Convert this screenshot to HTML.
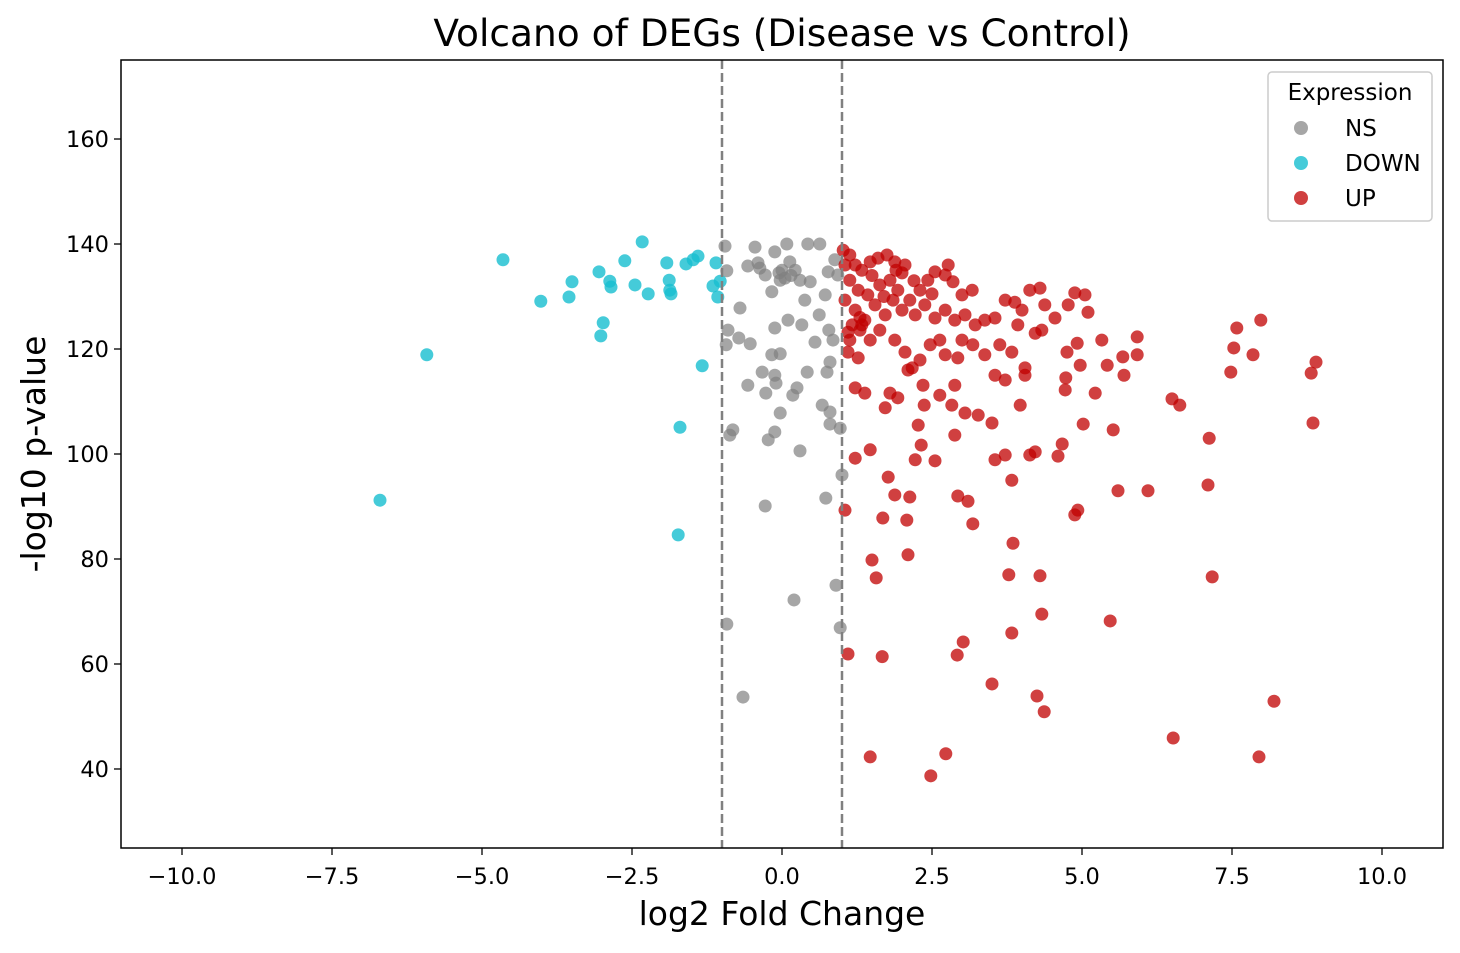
<!DOCTYPE html>
<html><head><meta charset="utf-8"><style>
body{margin:0;background:#fff}
svg text{font-family:"DejaVu Sans","Liberation Sans",sans-serif;fill:#000}
</style></head><body>
<svg id="chart" width="1460" height="948" xmlns="http://www.w3.org/2000/svg">
<rect width="1460" height="948" fill="#fff"/>
<text x="782" y="46" font-size="37.5" text-anchor="middle">Volcano of DEGs (Disease vs Control)</text>
<g id="marks"></g>
<rect x="121" y="60" width="1322" height="788" fill="none" stroke="#000" stroke-width="1.5"/>
<g id="axes"></g>
<text x="782" y="925" font-size="33" text-anchor="middle">log2 Fold Change</text>
<text transform="translate(45,454) rotate(-90)" font-size="33" text-anchor="middle">-log10 p-value</text>
<g>
<rect x="1268" y="72" width="164" height="149" rx="4" fill="#fff" fill-opacity="0.8" stroke="#ccc" stroke-width="1.5"/>
<text x="1350" y="100" font-size="23" text-anchor="middle">Expression</text>
<circle cx="1301" cy="128" r="7" fill="#808080" fill-opacity="0.7"/>
<text x="1345" y="136" font-size="23">NS</text>
<circle cx="1301" cy="163" r="7" fill="#17becf" fill-opacity="0.8"/>
<text x="1345" y="171" font-size="23">DOWN</text>
<circle cx="1301" cy="198" r="7" fill="#c00000" fill-opacity="0.75"/>
<text x="1345" y="206" font-size="23">UP</text>
</g>
</svg>
<script>
const xTicks=[-10,-7.5,-5,-2.5,0,2.5,5,7.5,10];
const xTickLabels=["\u221210.0","\u22127.5","\u22125.0","\u22122.5","0.0","2.5","5.0","7.5","10.0"];
const yTicks=[40,60,80,100,120,140,160];
const thresholds=[-1,1];
const downX=[-4.65,-4.02,-3.55,-3.5,-3.05,-2.98,-3.02,-2.87,-2.85,-2.62,-2.45,-2.33,-2.23,-1.92,-1.88,-1.87,-1.85,-1.6,-1.48,-1.4,-1.33,-1.7,-1.73,-1.15,-1.1,-1.07,-1.03,-5.92,-6.7];
const downY=[137,129.1,129.9,132.8,134.7,125,122.5,132.9,131.8,136.8,132.2,140.4,130.5,136.4,133.1,131.2,130.5,136.2,137,137.7,116.8,105.1,84.6,132,136.4,129.9,132.9,118.9,91.2];
const nsX=[-0.45,-0.57,-0.4,-0.37,-0.92,-0.12,0.08,0.43,0.63,0.13,0,0.22,0.3,0.47,-0.03,-0.28,-0.17,0.38,0.72,0.88,0.93,0.77,0.62,0.33,0.1,-0.12,0.78,0.55,0.85,-0.9,-0.93,-0.7,-0.72,-0.53,-0.33,-0.57,-0.12,-0.1,-0.17,-0.03,-0.27,0.18,0.25,0.42,0.75,0.8,0.67,0.8,0.8,0.97,-0.03,-0.12,-0.23,-0.82,-0.87,0.3,1.0,0.73,-0.28,0.9,0.2,0.97,-0.92,-0.65,-0.95,0.05,0.15,-0.05];
const nsY=[139.4,135.8,136.4,135.4,134.9,138.5,140,140,140,136.6,135,135,133.1,132.8,133.1,134.1,130.9,129.3,130.3,137,134.1,134.7,126.5,124.6,125.5,124,123.6,121.3,121.7,123.6,120.8,127.8,122.1,121,115.6,113.1,115,113.5,118.9,119.1,111.6,111.2,112.6,115.6,115.6,117.5,109.3,108,105.7,104.9,107.8,104.2,102.7,104.6,103.6,100.6,96,91.6,90.1,75,72.2,66.9,67.6,53.7,139.6,133.5,134,134.5];
const upX=[1.13,1.22,1.33,1.47,1.6,1.75,1.88,2.05,1.13,1.27,1.43,1.63,1.8,1.93,2.13,2.3,2.43,2.55,2.72,2.77,2.85,3.0,3.17,1.05,1.22,1.38,1.55,1.72,1.85,2.0,2.22,2.38,2.55,2.72,2.88,3.05,3.22,3.38,3.55,3.72,3.88,4.0,4.13,4.3,4.38,4.55,4.77,4.88,5.05,5.1,3.93,4.33,4.22,3.63,3.83,4.05,3.72,3.55,3.38,3.18,3.0,2.93,2.72,2.63,2.47,2.3,2.17,2.05,1.88,1.63,1.47,1.3,1.13,1.1,1.27,1.22,1.38,1.8,1.72,1.93,2.1,2.27,2.32,2.22,2.55,2.37,2.35,2.63,2.83,2.88,3.05,3.27,3.5,3.55,3.72,3.83,3.97,4.05,2.88,1.22,1.47,1.77,1.88,2.13,2.08,1.68,1.05,2.93,3.1,3.18,2.1,1.5,1.57,1.67,1.1,1.47,2.73,2.48,2.92,3.02,3.5,3.85,3.78,4.3,3.83,4.33,4.25,4.37,5.47,4.93,4.88,5.6,6.1,5.52,5.02,4.67,4.6,4.22,4.13,4.72,4.97,4.73,4.92,4.75,5.22,5.33,5.42,5.68,5.7,5.92,5.92,6.5,6.63,6.52,7.12,7.1,7.17,7.58,7.53,7.48,7.85,7.98,7.95,8.2,8.82,8.9,8.85,1.02,1.05,1.17,1.1,1.33,1.3,1.7,2.0,2.2,2.5,1.5,1.9];
const upY=[137.9,136,135,136.6,137.3,137.9,136.6,136,133.1,131.2,130.3,132.2,133.1,131.2,129.3,131.2,133.1,134.7,134.1,136,132.8,130.3,131.2,129.3,127.4,125.5,128.4,126.5,129.3,127.4,126.5,128.4,125.9,127.4,125.5,126.5,124.6,125.5,125.9,129.3,128.9,127.4,131.2,131.6,128.4,125.9,128.4,130.7,130.3,127,124.6,123.6,123,120.8,119.4,116.4,114.1,115,118.9,120.8,121.7,118.3,118.9,121.7,120.8,117.9,116.4,119.4,121.7,123.6,121.7,123.6,121.7,119.4,118.3,112.6,111.6,111.6,108.8,110.7,116,105.5,101.7,98.9,98.7,109.3,113.1,111.2,109.3,113.1,107.8,107.4,105.9,98.9,99.8,95,109.3,115,103.6,99.2,100.8,95.6,92.2,91.8,87.4,87.8,89.3,92,91,86.7,80.8,79.8,76.4,61.4,61.9,42.3,42.9,38.7,61.7,64.2,56.2,83,77,76.8,65.9,69.5,53.9,50.9,68.2,89.3,88.4,93,93,104.6,105.7,101.9,99.6,100.4,99.8,112.2,116.9,114.5,121.1,119.4,111.6,121.7,116.9,118.5,115,122.3,118.9,110.5,109.3,45.9,103,94.1,76.6,124,120.2,115.6,118.9,125.5,42.3,52.9,115.4,117.5,105.9,138.8,136,124.6,123.2,124.6,126,130,134.5,133,130.5,134,135];
const X0=121,X1=1443,Y0=60,Y1=848,xmin=-11.0167,xmax=11.0167,ymin=24.95,ymax=175.05;
function sx(v){return X0+(v-xmin)/(xmax-xmin)*(X1-X0);}
function sy(v){return Y1-(v-ymin)/(ymax-ymin)*(Y1-Y0);}
const NS="http://www.w3.org/2000/svg";
const marks=document.getElementById('marks'),axes=document.getElementById('axes');
function mk(tag,attrs,parent){const e=document.createElementNS(NS,tag);for(const k in attrs)e.setAttribute(k,attrs[k]);parent.appendChild(e);return e;}
function series(xs,ys,color,op,name){
  for(let i=0;i<xs.length;i++){
    const c=mk('circle',{cx:sx(xs[i]),cy:sy(ys[i]),r:6.5,fill:color,'fill-opacity':op},marks);
    
    
  }
}
series(nsX,nsY,'#808080',0.7,'point-ns');
series(downX,downY,'#17becf',0.8,'point-down');
series(upX,upY,'#c00000',0.75,'point-up');
thresholds.forEach(t=>{
  const l=mk('line',{x1:sx(t),x2:sx(t),y1:Y0,y2:Y1,stroke:'#808080','stroke-width':2.5,'stroke-dasharray':'9,4'},marks);
  
  
});
xTicks.forEach((t,i)=>{
  const x=sx(t);
  mk('line',{x1:x,x2:x,y1:Y1,y2:Y1+7,stroke:'#000','stroke-width':1.3},axes);
  const tx=mk('text',{x:x,y:Y1+36,'font-size':22.5,'text-anchor':'middle'},axes);
  tx.textContent=xTickLabels[i];
  
  
});
yTicks.forEach(t=>{
  const y=sy(t);
  mk('line',{x1:X0-7,x2:X0,y1:y,y2:y,stroke:'#000','stroke-width':1.3},axes);
  const tx=mk('text',{x:X0-12,y:y+8,'font-size':22.5,'text-anchor':'end'},axes);
  tx.textContent=t;
  
  
});
</script>
</body></html>
